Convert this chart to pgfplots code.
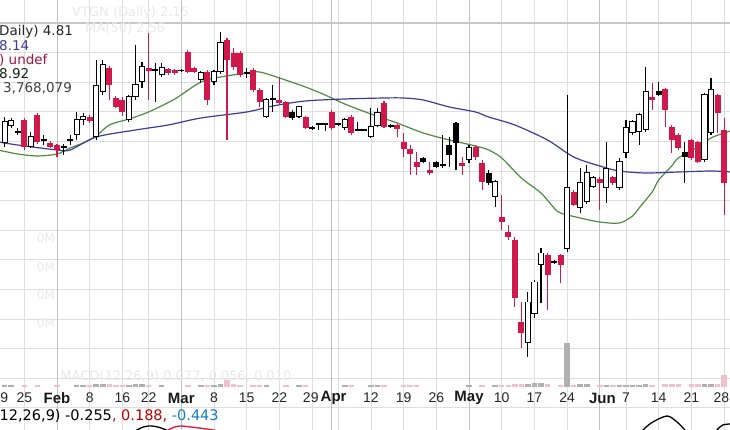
\documentclass[border=0pt]{standalone}
\usepackage{pgfplots}
\pgfplotsset{compat=1.18}
\usepackage{pgfplotstable}
\usepackage{fontspec}
\setmainfont{Liberation Sans}
\newfontfamily\dv{DejaVu Sans}

\definecolor{cdn}{HTML}{D0184A}
\definecolor{vpink}{HTML}{F2BFCC}
\definecolor{vgray}{HTML}{B0B0B0}
\definecolor{ma20}{HTML}{4E8B40}
\definecolor{ma50}{HTML}{3C3C96}
\definecolor{gridc}{HTML}{DEDEDE}
\definecolor{ghost}{HTML}{E8E8E8}

% candles: i = trading day (Feb 1 = 0), h/l = wick, t/b = body; y in px from top
\pgfplotstableread{
i h l t b
-5 118 150 120 147
-3 113 144 115 142
-1 141 148 143 147
0 144 157 145 150
5 115 123 117 121
8 66 100 68 85
9 96 108 98 107
10 97 116 100 112
14 33 100 68 71
17 68 75 69 73
18 69 75 70 73
20 50 73 52 72
21 67 73 68 72
23 70 105 72 100
26 38 140 40 60
27 48 70 53 67
28 51 77 53 75
30 68 92 70 90
31 88 107 90 102
34 77 104 100 103
35 101 118 102 117
38 116 129 117 128
42 110 130 112 128
45 115 135 117 133
50 101 128 103 127
52 124 137 125 129
53 133 157 142 149
54 145 175 149 154
55 152 175 162 167
57 162 175 170 173
62 157 175 163 166
64 145 160 147 157
65 160 190 163 182
68 195 230 217 222
69 225 240 232 237
70 237 307 240 298
71 302 348 322 333
75 253 310 255 275
77 254 283 255 265
79 190 206 192 205
83 177 210 179 183
85 176 185 177 183
91 83 110 97 100
93 88 127 89 110
94 125 153 127 140
95 133 150 135 148
97 139 160 140 158
98 141 163 142 162
101 94 133 95 113
102 118 215 130 183
}\tred

\pgfplotstableread{
i h l t b
-8 117 147 122 143
-7 118 128 121 126
-4 132 148 137 147
3 112 140 120 135
4 113 125 117 120
6 60 140 86 137
7 60 95 65 92
11 95 122 97 120
12 45 100 85 97
13 62 88 67 82
16 63 77 68 75
22 71 83 73 80
24 70 85 72 82
25 32 74 43 72
32 98 118 100 117
37 106 118 107 117
44 118 130 120 128
48 108 138 127 137
49 108 127 113 126
63 145 163 148 160
67 180 207 182 197
72 292 357 302 342
73 280 318 282 313
74 248 303 253 264
78 95 252 188 248
80 168 213 183 208
81 165 204 173 202
82 176 188 178 187
84 142 203 169 188
86 158 190 162 188
87 120 158 128 153
88 120 135 122 133
89 113 145 115 132
90 67 132 92 130
99 93 162 95 160
100 78 135 90 133
}\twhite

\pgfplotstableread{
i h l t b
-6 128 135 131 133
-2 135 145 139 141
1 144 155 146 148
2 135 145 139 141
15 63 102 69 71
19 69 72 70 71.5
29 68 78 72 74
33 85 112 98 100
36 110 120 112 118
39 126 130 127 129
40 123 130 123.5 125
41 124 131 123.5 125
43 123 126 123.5 125
46 122 131 129 131
47 129 131 129 131
51 124 128 125 127
56 157 163 158 162
58 161 168 162 167
59 135 168 164 166
60 137 167 145 155
61 122 170 123 143
66 170 185 173 183
76 260 264 261 263
92 82 96 91 95
96 142 183 152 157
}\tblack

% volume (px above baseline at y=387)
\pgfplotstableread{
i v
-8 2
-7 2
3 2
4 2
6 3
7 3
11 2
12 3
13 3
16 2
22 2
24 2
25 3
32 2
37 2
44 2
48 2
49 2
63 2
67 2
72 3
73 4
74 4
78 44
80 3
81 3
84 2
86 2
87 2
88 2
89 2
90 3
99 3
100 3
}\volup

\pgfplotstableread{
i v
-5 2
-3 2
0 2
5 2
8 3
9 2
10 2
14 2
20 2
23 2
26 7
27 3
28 2
30 2
31 2
35 2
38 2
45 2
50 2
53 2
54 2
55 2
65 2
68 2
69 2
70 3
71 3
75 3
77 2
79 2
83 2
85 2
91 2
93 3
94 3
95 3
97 3
98 3
101 3
102 12
}\voldn

\pgfplotstableread{
i y
-9 150
-6 154
-3 156
0 154
2 148
4 143
6 136
8 125
11 119
14 112
18 99
22 82
25 77
29 73
31 72
34 78
38 87
41 95
44 104
48 114
52 123
56 133
60 140
64 146
66 150
68 158
71 178
74 193
76 208
77 213
80 218
83 222
86 223
88 216
89 208
91 192
92 180
94 166
95 158
98 147
100 138
102 133
103 131
}\tmaA

\pgfplotstableread{
i y
-9 142
-6 145
0 150
2 150
6 137
12 130
17 125
22 118
29 112
33 106
38 101
44 99
50 98
53 98
56 100
60 107
64 112
66 117
70 125
75 140
79 157
83 166
86 171
90 173
95 172
100 171
103 172
}\tmaB

% each candle part is a vertical error bar; the plot line and marks are hidden
\pgfplotsset{
  cw/.style 2 args={forget plot, draw=none, mark=none,
    error bars/.cd, y dir=both, y explicit, error mark=none,
    error bar style={draw=#1, line width=#2}},
}
\tikzset{
  tl/.style={font=\fontsize{14}{16}\selectfont, text=black!85, inner sep=0pt, anchor=center},
  tm/.style={font=\fontsize{15}{17}\selectfont\bfseries, text=black!90, inner sep=0pt, anchor=center},
  lg/.style={font=\dv\fontsize{13.5}{15}\selectfont, inner sep=0pt, anchor=west},
  gh/.style={font=\dv\fontsize{13}{15}\selectfont, text=ghost, inner sep=0pt, anchor=west},
}

\begin{document}
\begin{tikzpicture}
\begin{axis}[
  scale only axis, width=730pt, height=430pt,
  xmin=-8.716, xmax=102.905, ymin=0, ymax=430, y dir=reverse,
  axis line style={draw=none}, major tick length=0pt,
  xtick={-9,-5,5,10,14,24,29,34,39,43,48,53,58,68,73,78,87,92,97,102},
  xticklabels={},
  ytick={52.6,82.2,111.8,141.4,171,200.6,230.2,259.8,289.4,319,348.6,378.2,407.8},
  yticklabels={},
  xmajorgrids, ymajorgrids,
  major grid style={gridc, line width=0.8pt},
  extra x ticks={0,19,42,63,83}, extra x tick labels={},
  extra x tick style={major grid style={black!25, line width=0.9pt}},
  extra y ticks={23}, extra y tick labels={},
  extra y tick style={major grid style={black!22, line width=1.6pt}},
]
% faint overlay texts
\node[gh] at (axis cs:2.3,13) {VTGN (Daily) 2.15};
\node[gh] at (axis cs:4.3,28) {MA(50) 2.56};
\node[gh, font=\dv\fontsize{12}{14}\selectfont] at (axis cs:-3.1,238) {0M};
\node[gh, font=\dv\fontsize{12}{14}\selectfont] at (axis cs:-3.1,267) {0M};
\node[gh, font=\dv\fontsize{12}{14}\selectfont] at (axis cs:-3.1,295) {0M};
\node[gh, font=\dv\fontsize{12}{14}\selectfont] at (axis cs:-3.1,323) {0M};
\node[gh] at (axis cs:0.5,376) {MACD(12,26,9) 0.077, 0.056, 0.010};

% moving averages
\addplot[ma20, line width=1.2pt, smooth, forget plot] table[x=i, y=y] {\tmaA};
\addplot[ma50, line width=1.2pt, smooth, forget plot] table[x=i, y=y] {\tmaB};

% volume
\addplot[cw={vgray}{5.5pt}] table[x=i, y expr=387, y error plus expr=0, y error minus expr=\thisrow{v}] {\volup};
\addplot[cw={vpink}{5.5pt}] table[x=i, y expr=387, y error plus expr=0, y error minus expr=\thisrow{v}] {\voldn};

% wicks
\addplot[cw={cdn}{1.1pt}] table[x=i, y=h, y error plus expr=\thisrow{l}-\thisrow{h}, y error minus expr=0] {\tred};
\addplot[cw={black}{1.1pt}] table[x=i, y=h, y error plus expr=\thisrow{l}-\thisrow{h}, y error minus expr=0] {\twhite};
\addplot[cw={black}{1.1pt}] table[x=i, y=h, y error plus expr=\thisrow{l}-\thisrow{h}, y error minus expr=0] {\tblack};
% bodies
\addplot[cw={cdn}{6pt}] table[x=i, y=t, y error plus expr=\thisrow{b}-\thisrow{t}, y error minus expr=0] {\tred};
\addplot[cw={black}{6pt}] table[x=i, y=t, y error plus expr=\thisrow{b}-\thisrow{t}, y error minus expr=0] {\tblack};
\addplot[cw={black}{6.2pt}] table[x=i, y=t, y error plus expr=\thisrow{b}-\thisrow{t}+0.5, y error minus expr=0.5] {\twhite};
\addplot[cw={white}{4.2pt}] table[x=i, y=t, y error plus expr=\thisrow{b}-\thisrow{t}-0.5, y error minus expr=-0.5] {\twhite};

% MACD panel (partly visible)
\addplot[black, line width=1.3pt, smooth, forget plot] coordinates {(10.4,440) (12.2,430) (13.5,426.5) (14.5,426) (15.7,427.5) (17.3,432) (18.8,440)};
\addplot[cdn!80!red, line width=1.3pt, smooth, forget plot] coordinates {(16.5,432) (17.6,428) (18.8,426) (21.1,427.5) (23.9,430) (25.7,433)};
\addplot[black, line width=1.3pt, smooth, forget plot] coordinates {(88.4,440) (89.6,430) (91.1,422) (93.3,416) (94.8,422) (96,430) (97.2,440)};
\addplot[black, line width=1.3pt, smooth, forget plot] coordinates {(99.8,440) (100.9,430) (101.8,425) (102.9,424)};

% legend texts
\node[lg, text=black!85] at (axis cs:-8.87,32) {Daily) 4.81};
\node[lg, text=ma50] at (axis cs:-8.87,45.5) {8.14};
\node[lg, text=cdn!80!black] at (axis cs:-8.87,60) {) undef};
\node[lg, text=black!75!ma20] at (axis cs:-8.87,74) {8.92};
\node[lg, text=black!75] at (axis cs:-8.26,88) {3,768,079};
\node[lg, font=\dv\fontsize{14.5}{16}\selectfont] at (axis cs:-8.8,416) {12,26,9) -0.255\textcolor{red!75!black}{, 0.188, }\textcolor{cyan!60!blue}{-0.443}};

% date labels
\node[tl, anchor=west] at (axis cs:-8.7,398) {9};
\node[tl] at (axis cs:-5,398) {25};
\node[tm] at (axis cs:0,398) {Feb};
\node[tl] at (axis cs:5,398) {8};
\node[tl] at (axis cs:10,398) {16};
\node[tl] at (axis cs:14,398) {22};
\node[tm] at (axis cs:19,398) {Mar};
\node[tl] at (axis cs:24,398) {8};
\node[tl] at (axis cs:29,398) {15};
\node[tl] at (axis cs:34,398) {22};
\node[tl] at (axis cs:38.8,398) {29};
\node[tm] at (axis cs:42.3,398) {Apr};
\node[tl] at (axis cs:48,398) {12};
\node[tl] at (axis cs:53,398) {19};
\node[tl] at (axis cs:58,398) {26};
\node[tm] at (axis cs:63,398) {May};
\node[tl] at (axis cs:68,398) {10};
\node[tl] at (axis cs:73,398) {17};
\node[tl] at (axis cs:78,398) {24};
\node[tm] at (axis cs:83.4,398) {Jun};
\node[tl] at (axis cs:87,398) {7};
\node[tl] at (axis cs:92,398) {14};
\node[tl] at (axis cs:97,398) {21};
\node[tl, anchor=east] at (axis cs:102.8,398) {28};
\end{axis}
\pgfresetboundingbox
\path (0,0) rectangle (730pt,430pt);
\end{tikzpicture}
\end{document}
